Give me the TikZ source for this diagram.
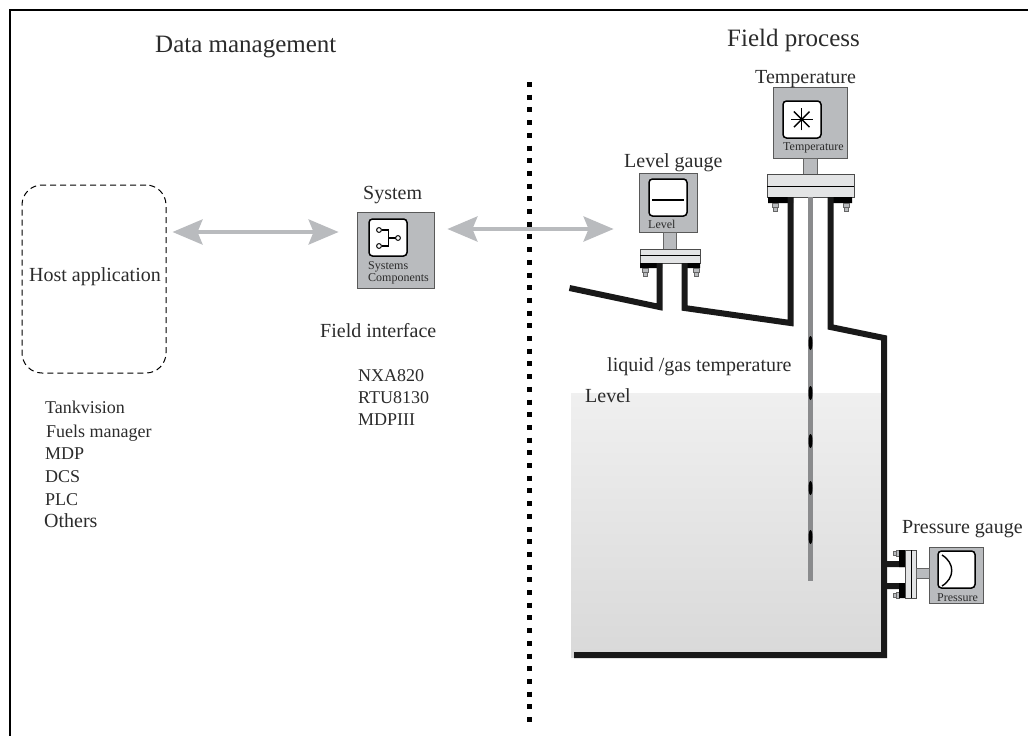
\documentclass[tikz,border=0pt]{standalone}
\usepackage{fontspec}
\setmainfont{Liberation Serif}
\usetikzlibrary{arrows.meta}
\definecolor{boxgray}{HTML}{B9BBBE}
\definecolor{flangegray}{HTML}{E3E4E5}
\definecolor{probegray}{HTML}{8A8B8D}
\definecolor{inkgray}{HTML}{2B2B2B}
\tikzset{
	lbl/.style={anchor=base west,inner sep=0pt,text=inkgray,font=\fontsize{20}{20}\selectfont},
	lblbig/.style={lbl,font=\fontsize{25}{25}\selectfont},
	lbllist/.style={lbl,font=\fontsize{18}{18}\selectfont},
	lblsmall/.style={lbl,font=\fontsize{12}{12}\selectfont},
	gaugebox/.style={draw=black!65,line width=.8pt,fill=boxgray,inner sep=0pt},
	dial/.style={draw=black,line width=1.5pt,fill=white,rounded corners=3.5pt,inner sep=0pt},
	flange/.style={draw=black!70,line width=.7pt,fill=flangegray},
	stem/.style={draw=black!60,line width=.6pt,fill=boxgray},
	bolt/.style={draw=black!60,line width=.5pt,fill=boxgray},
	wall/.style={line width=6pt,draw=black!90},
	linkarrow/.style={draw=boxgray,line width=4pt,
		{Stealth[length=30pt,width=25pt,inset=5pt,boxgray]}-{Stealth[length=30pt,width=25pt,inset=5pt,boxgray]}}
}
\begin{document}
\begin{tikzpicture}[x=1pt,y=-1pt]
\useasboundingbox (0,0) rectangle (1028,736);
\draw[line width=2pt] (1028,10.2) -- (10.3,10.2) -- (10.3,736);

% tank contents
\shade[top color=black!6,bottom color=black!15] (571,393) rectangle (881,657);

% boxes
\node[draw=black,dash pattern=on 6pt off 4pt,line width=1pt,rounded corners=20pt,minimum width=144,minimum height=188] (host) at (94,279) {};
\node[gaugebox,minimum width=77,minimum height=76] (sys) at (395.5,250) {};
\node[gaugebox,minimum width=58,minimum height=59] (lev) at (668,202.5) {};
\node[gaugebox,minimum width=74,minimum height=71] (temp) at (810,122.5) {};
\node[gaugebox,minimum width=54,minimum height=56] (pres) at (956,575) {};
\node[dial,minimum width=38,minimum height=37] (sysdial) at (388,237.5) {};
\node[dial,minimum width=38,minimum height=37] (levdial) at (668,197.5) {};
\node[dial,minimum width=38,minimum height=37] (tempdial) at (802,119.5) {};
\node[dial,minimum width=37,minimum height=37] (presdial) at (956.5,569.5) {};

% level gauge
\draw[stem] (663,232) rectangle (676,249);
\draw[flange] (640,249) rectangle (700,263);
\draw[black,line width=.8pt] (640,255.5) -- (700,255.5);
\fill[black] (640,263) rectangle (662,268) (682,263) rectangle (700,268);
\draw[black,line width=1.4pt] (652,200) -- (684,200);

% temperature
\draw[stem] (803,158) rectangle (817,174);
\draw[flange] (767,174) rectangle (854,197);
\draw[black,line width=.8pt] (767,186) -- (854,186);
\fill[black] (768,197) rectangle (793,203) (828,197) rectangle (852,203);
\foreach \a in {0,45,90,135}
{
	\draw[black,line width=1.4pt] (801.7,119.3)+(\a:11) -- +(\a+180:11);
}

% bolts
\foreach \x/\y in {775/203,846/203,645/268,696/268}
{
	\draw[bolt] (\x-2,\y+3) rectangle (\x+2,\y+8);
	\draw[bolt] (\x-3,\y) rectangle (\x+3,\y+4);
}
\foreach \y in {553,595}
{
	\draw[bolt] (893.5,\y-2) rectangle (897,\y+2);
	\draw[bolt] (896,\y-3) rectangle (899,\y+3);
}

% probe
\fill[probegray] (808,197) rectangle (813,581);
\foreach \y in {343,393,441,488,537}
{
	\fill[black] (810.5,\y) ellipse (2pt and 7pt);
}

% vessel
\draw[wall] (569.5,288) -- (659.5,307) -- (659.5,263);
\draw[wall] (684.5,263) -- (684.5,308) -- (790.5,323) -- (790.5,197);
\draw[wall] (830.5,197) -- (830.5,327) -- (884,338) -- (884,655) -- (574,655);

% pressure gauge
\fill[black!90] (887,561) rectangle (905,567) (887,583) rectangle (905,589);
\fill[black] (899,550) rectangle (905,567) (899,583) rectangle (905,598);
\draw[flange] (905,550) rectangle (916,598);
\draw[black,line width=.8pt] (911,550) -- (911,598);
\draw[stem] (916.5,568) rectangle (929,578);
\draw[black,line width=1.4pt] (942,555) .. controls (955,563) and (955,578) .. (942,586);

% systems symbol
\draw[black,line width=1.1pt] (381.5,230) -- (388.5,230) -- (388.5,246) -- (381.5,246);
\draw[black,line width=1.1pt] (388.5,238) -- (395.5,238);
\foreach \x/\y in {379/230,379/246,398/238}
{
	\draw[black,line width=1pt,fill=white] (\x,\y) circle (2.4pt);
}

% links
\coordinate (linka) at (0,232);
\coordinate (linkb) at (0,229);
\draw[linkarrow,shorten <=6pt,shorten >=18pt] (host.east |- linka) -- (sys.west |- linka);
\draw[linkarrow,shorten <=13pt,shorten >=25pt] (sys.east |- linkb) -- (lev.west |- linkb);

% divider
\draw[black,line width=5pt,dash pattern=on 5pt off 7.7pt] (529.5,82) -- (529.5,724);

% labels
\node[lblbig] (datalbl) at (155,52) {Data management};
\node[lblbig] (fieldlbl) at (727,46) {Field process};
\node[lbl] (hostlbl) at (29,281) {Host application};
\node[lbl] (syslbl) at (363,199) {System};
\node[lbl] (ifacelbl) at (320,337) {Field interface};
\node[lbl] (levlbl) at (624,167) {Level gauge};
\node[lbl] (templbl) at (755,83) {Temperature};
\node[lbl] (preslbl) at (902,533) {Pressure gauge};
\node[lbl] (liquidlbl) at (607,371) {liquid /gas temperature};
\node[lbl] (levellbl) at (585,402) {Level};

\node[lbllist] (nxa) at (358,381) {NXA820};
\node[lbllist] (rtu) at (358,403) {RTU8130};
\node[lbllist] (mdpiii) at (358,425) {MDPIII};
\node[lbllist] (tank) at (45,413) {Tankvision};
\node[lbllist] (fuels) at (46,437) {Fuels manager};
\node[lbllist] (mdp) at (45,459) {MDP};
\node[lbllist] (dcs) at (45,482) {DCS};
\node[lbllist] (plc) at (45,505) {PLC};
\node[lbl] (others) at (44,527) {Others};

\node[lblsmall] (tempsm) at (783,150) {Temperature};
\node[lblsmall] (levsm) at (648,228) {Level};
\node[lblsmall] (pressm) at (937,601) {Pressure};
\node[lblsmall] (syssm) at (368,269) {Systems};
\node[lblsmall] (compsm) at (368,281) {Components};
\end{tikzpicture}
\end{document}
